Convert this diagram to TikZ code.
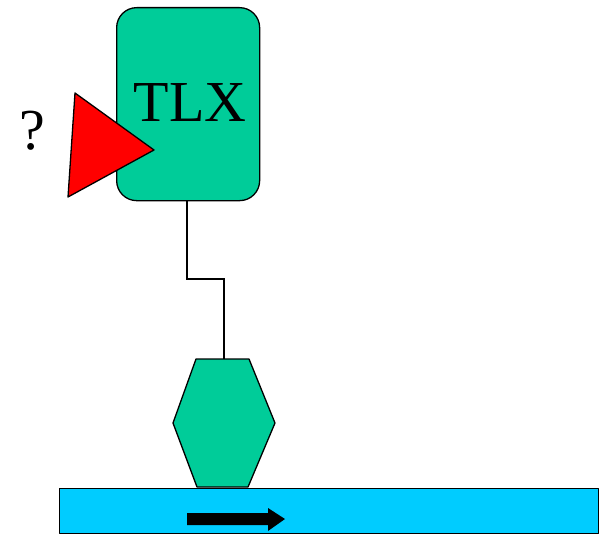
\documentclass[tikz,border=0pt]{standalone}
\usepackage{fontspec}
\setmainfont{Liberation Serif}
\definecolor{tlxgreen}{RGB}{0,204,153}
\definecolor{barblue}{RGB}{0,204,255}
\begin{document}
\begin{tikzpicture}[x=1pt,y=-1pt,
  outl/.style={draw=black,line width=1.3pt,line join=round},
  wire/.style={draw=black,line width=1.3pt}]
\useasboundingbox (0,0) rectangle (606,535);
% TLX box
\node[outl,fill=tlxgreen,rounded corners=20pt,minimum width=143pt,minimum height=193pt,inner sep=0pt,anchor=north west] (tlx) at (116,7) {};
\node[font=\fontsize{58}{60}\selectfont,inner sep=0pt] (tlxlabel) at (190,103) {TLX};
% red triangle
\draw[outl,fill=red] (75,93) -- (154,150) -- (68,197) -- cycle;
\node[font=\fontsize{58}{60}\selectfont,inner sep=0pt] (q) at (32,131) {?};
% blue bar
\node[outl,fill=barblue,minimum width=539pt,minimum height=45pt,inner sep=0pt,anchor=north west] (bar) at (59,488) {};
% hexagon
\draw[outl,fill=tlxgreen] (196,359) -- (249,359) -- (275,423) -- (248,487) -- (197,487) -- (173,423) -- cycle;
\coordinate (hextop) at (224,359);
\coordinate (tlxbot) at (187,200);
% connector
\draw[wire] (tlxbot) -- (187,279) -- (224,279) -- (hextop);
% arrow
\fill[black] (187,513) -- (268,513) -- (268,508) -- (285,519) -- (268,531) -- (268,525) -- (187,525) -- cycle;
\end{tikzpicture}
\end{document}
